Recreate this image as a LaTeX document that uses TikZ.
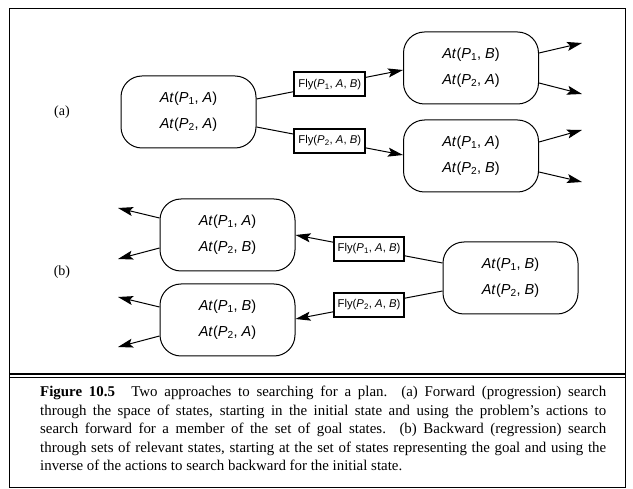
\documentclass[tikz,border=0pt]{standalone}
\usepackage{fontspec}
\setmainfont{Liberation Serif}
\newfontfamily\diagfont{Liberation Sans}
\usepackage{tikz}
\usetikzlibrary{arrows.meta}
\tikzstyle{state} = [rectangle, rounded corners=21pt, draw=black, line width=1pt, minimum width=135pt, minimum height=72pt, inner sep=0pt, align=center, font=\diagfont\fontsize{14.5}{26}\selectfont]
\tikzstyle{action} = [rectangle, draw=black, line width=2pt, fill=white, minimum height=24pt, inner xsep=4pt, inner ysep=0pt, font=\diagfont\fontsize{11.3}{12}\selectfont]
\tikzstyle{arrow} = [line width=1pt,->,>={Stealth[length=15pt,width=9pt,inset=3pt]}]
\newcommand{\At}[2]{\textit{At}(\textit{P}\textsubscript{#1}, \textit{#2})}
\newcommand{\Fly}[1]{Fly(\textit{P}\textsubscript{#1}, \textit{A}, \textit{B})}

\begin{document}
\begin{tikzpicture}[x=1pt,y=-1pt]
\useasboundingbox (0,0) rectangle (633,489);

% frame
\draw [line width=1.2pt] (9.5,8.5) rectangle (625.5,487.5);
\draw [line width=1.2pt] (9.5,374) -- (625.5,374);
\draw [line width=1.2pt] (9.5,377.5) -- (625.5,377.5);

% (a) forward
\node (la) at (62,112) {\fontsize{14}{16}\selectfont (a)};
\node (init) [state] at (188.5,112) {\At{1}{A}\\\At{2}{A}};
\node (s1) [state] at (471,68) {\At{1}{B}\\\At{2}{A}};
\node (s2) [state] at (471,156) {\At{1}{A}\\\At{2}{B}};

\draw [arrow] ([yshift=13pt]init.east) -- node (fa1) [action] {\Fly{1}} ([yshift=-2pt]s1.west);
\draw [arrow] ([yshift=-15pt]init.east) -- node (fa2) [action] {\Fly{2}} ([yshift=1pt]s2.west);

\coordinate (o1) at (582,43);
\coordinate (o2) at (582,94);
\coordinate (o3) at (582,130);
\coordinate (o4) at (582,182);
\draw [arrow] ([yshift=15pt]s1.east) -- (o1);
\draw [arrow] ([yshift=-15pt]s1.east) -- (o2);
\draw [arrow] ([yshift=14pt]s2.east) -- (o3);
\draw [arrow] ([yshift=-16pt]s2.east) -- (o4);

% (b) backward
\node (lb) at (62,272) {\fontsize{14}{16}\selectfont (b)};
\node (goal) [state] at (510.5,278) {\At{1}{B}\\\At{2}{B}};
\node (r1) [state] at (227.5,235) {\At{1}{A}\\\At{2}{B}};
\node (r2) [state] at (227.5,320) {\At{1}{B}\\\At{2}{A}};

\draw [arrow] ([yshift=15pt]goal.west) -- node (fb1) [action] {\Fly{1}} (r1.east);
\draw [arrow] ([yshift=-13pt]goal.west) -- node (fb2) [action] {\Fly{2}} ([yshift=1pt]r2.east);

\coordinate (i1) at (118,208);
\coordinate (i2) at (118,259);
\coordinate (i3) at (118,297);
\coordinate (i4) at (118,347);
\draw [arrow] ([yshift=17pt]r1.west) -- (i1);
\draw [arrow] ([yshift=-13pt]r1.west) -- (i2);
\draw [arrow] ([yshift=13pt]r2.west) -- (i3);
\draw [arrow] ([yshift=-16pt]r2.west) -- (i4);

% caption
\node (cap) [anchor=north west, text width=566pt, align=justify, inner sep=0pt, font=\fontsize{14.9}{18.5}\selectfont] at (40,386) {\textbf{Figure 10.5}\hspace{1.1em}Two approaches to searching for a plan. (a) Forward (progression) search\linebreak through the space of states, starting in the initial state and using the problem’s actions to\linebreak search forward for a member of the set of goal states. (b) Backward (regression) search\linebreak through sets of relevant states, starting at the set of states representing the goal and using the\linebreak inverse of the actions to search backward for the initial state.};

\end{tikzpicture}
\end{document}
